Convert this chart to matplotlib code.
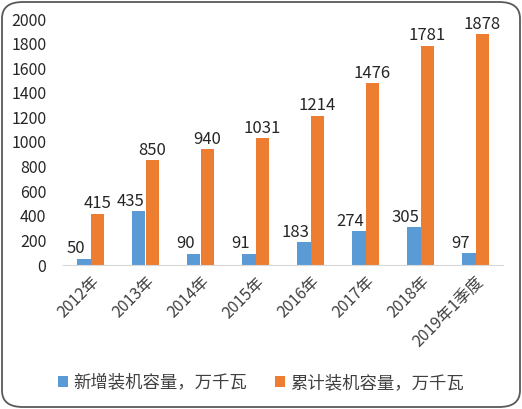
import matplotlib
matplotlib.use("Agg")
import matplotlib.pyplot as plt
import numpy as np
from matplotlib.patches import FancyBboxPatch

plt.rcParams['font.family'] = ['Noto Sans CJK SC', 'DejaVu Sans']

categories = ["2012年", "2013年", "2014年", "2015年", "2016年", "2017年", "2018年", "2019年1季度"]
new_capacity = [50, 435, 90, 91, 183, 274, 305, 97]
total_capacity = [415, 850, 940, 1031, 1214, 1476, 1781, 1878]
series_names = ["新增装机容量，万千瓦", "累计装机容量，万千瓦"]

blue = "#5B9BD5"
orange = "#ED7D31"

W, H = 522, 409
fig = plt.figure(figsize=(W / 100, H / 100), dpi=100)

border = FancyBboxPatch((2 / W, 2 / H), 1 - 4 / W, 1 - 4 / H,
                        boxstyle="round,pad=0,rounding_size=0.04",
                        transform=fig.transFigure, fill=False,
                        edgecolor="#595959", linewidth=1.3)
fig.patches.append(border)

ax = fig.add_axes([63 / W, 1 - 265 / H, 440 / W, 246 / H])
x = np.arange(len(categories))
bw = 0.245
b1 = ax.bar(x - bw / 2, new_capacity, bw, color=blue, label=series_names[0])
b2 = ax.bar(x + bw / 2, total_capacity, bw, color=orange, label=series_names[1])

for rect, v in zip(b1, new_capacity):
    ax.text(rect.get_x() + rect.get_width() / 2 - 0.15, v + 12, str(v),
            ha="center", va="bottom", fontsize=12, color="#262626")
for rect, v in zip(b2, total_capacity):
    ax.text(rect.get_x() + rect.get_width() / 2, v + 12, str(v),
            ha="center", va="bottom", fontsize=12, color="#262626")

ax.set_xlim(-0.5, len(categories) - 0.5)
ax.set_ylim(0, 2000)
ax.set_yticks(np.arange(0, 2001, 200))
ax.tick_params(axis="y", length=0, labelsize=11.5, pad=12, colors="#262626")
ax.set_xticks(x)
ax.set_xticklabels(categories, rotation=45, ha="right", rotation_mode="anchor",
                   fontsize=11.5, color="#404040")
ax.tick_params(axis="x", length=0, pad=6)
for s in ["top", "right", "left"]:
    ax.spines[s].set_visible(False)
ax.spines["bottom"].set_color("#D9D9D9")

fig.legend(handles=[b1, b2], labels=series_names, loc="center",
           bbox_to_anchor=(0.5, 1 - 383 / H), ncol=2, frameon=False,
           fontsize=12.5, handlelength=0.6, handleheight=0.6,
           handletextpad=0.3, columnspacing=1.6, labelcolor="#404040")

fig.savefig("out.png", dpi=100)
